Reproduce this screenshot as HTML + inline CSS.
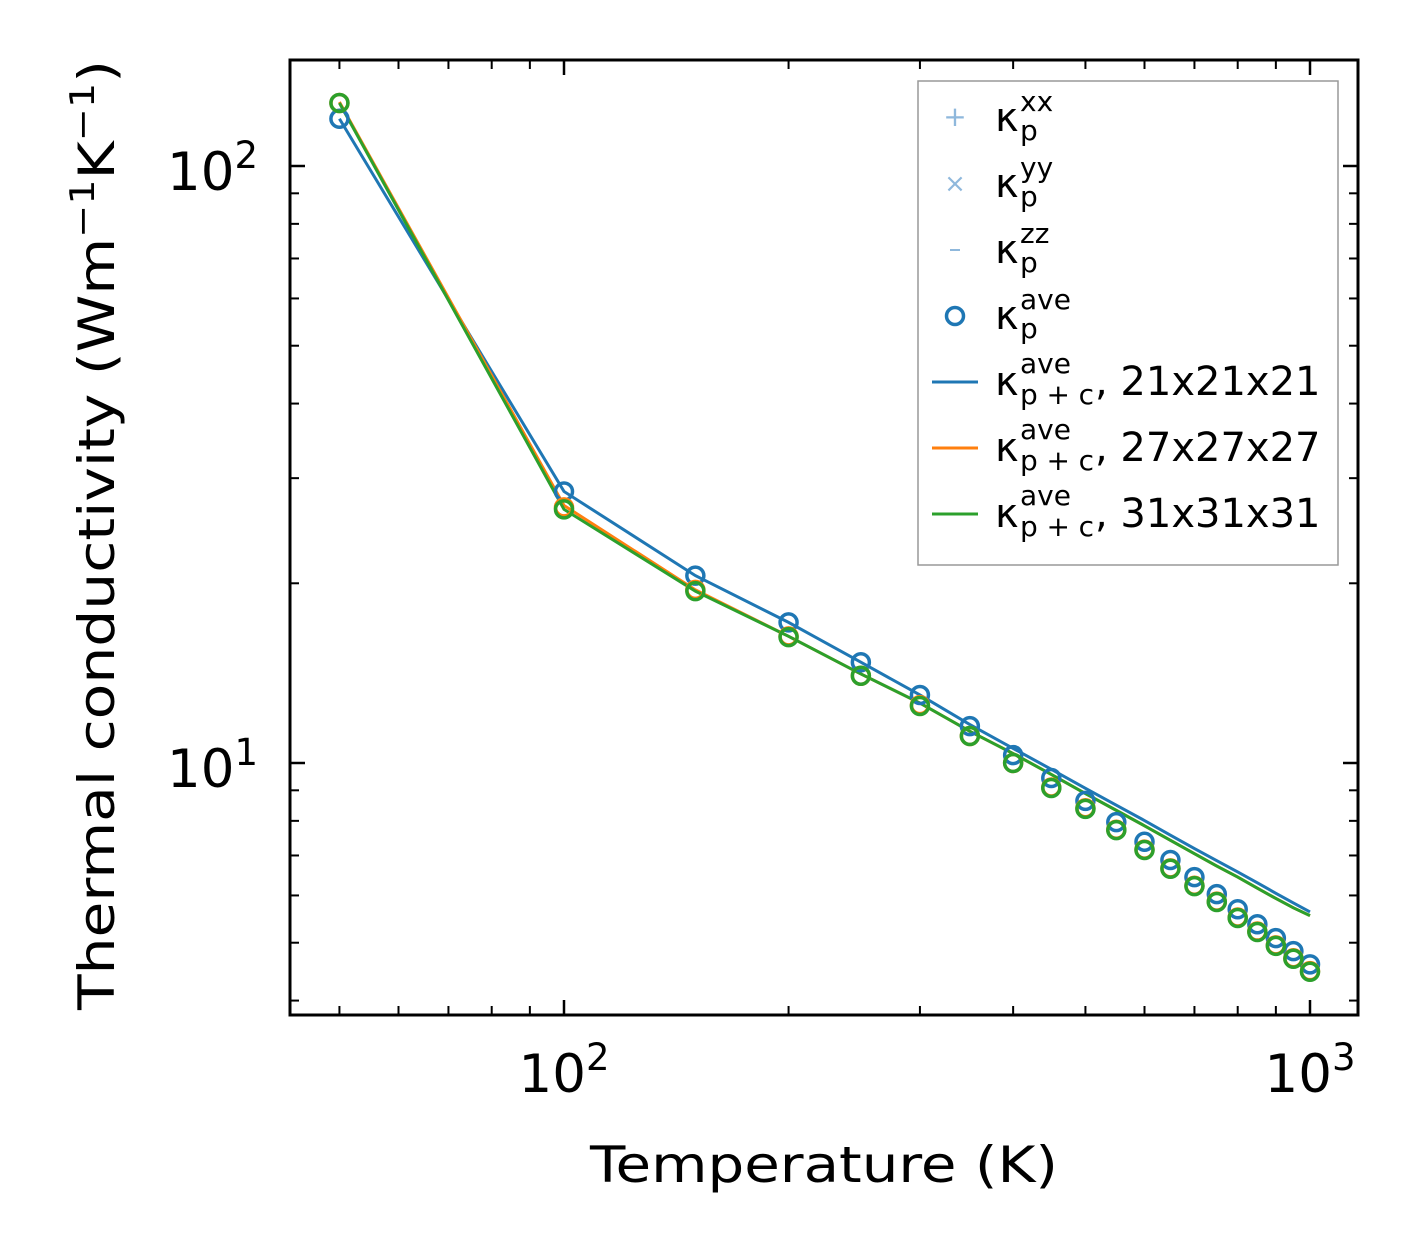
<!DOCTYPE html>
<html><head><meta charset="utf-8"><style>
body{margin:0;background:#fff}
svg{font-family:"DejaVu Sans","Liberation Sans",sans-serif}
</style></head><body>
<svg id="chart" width="1420" height="1254" viewBox="0 0 1420 1254" xmlns="http://www.w3.org/2000/svg">
<rect width="1420" height="1254" fill="#fff"/>
<g id="ticks"></g>
<g id="plot"></g>
<rect x="290" y="60" width="1068" height="955" fill="none" stroke="#000" stroke-width="3"/>
<g font-size="53" fill="#000">
<text x="564" y="1092" text-anchor="middle">10<tspan dy="-22" font-size="37">2</tspan></text>
<text x="1310" y="1092" text-anchor="middle">10<tspan dy="-22" font-size="37">3</tspan></text>
<text x="258" y="190" text-anchor="end">10<tspan dy="-22" font-size="37">2</tspan></text>
<text x="258" y="787" text-anchor="end">10<tspan dy="-22" font-size="37">1</tspan></text>
</g>
<text x="824" y="1182" font-size="50" text-anchor="middle" textLength="468" lengthAdjust="spacingAndGlyphs">Temperature (K)</text>
<text transform="translate(114,535) rotate(-90)" font-size="50" text-anchor="middle" textLength="950" lengthAdjust="spacingAndGlyphs">Thermal conductivity (Wm<tspan dy="-20" font-size="34">−1</tspan><tspan dy="20">K</tspan><tspan dy="-20" font-size="34">−1</tspan><tspan dy="20">)</tspan></text>
<g>
<rect x="918" y="81" width="420" height="484" fill="#fff" stroke="#999" stroke-width="1.5"/>
<g fill="#000" font-size="40">
<text x="955" y="126" font-size="28" fill="#8fb8dc" text-anchor="middle">+</text>
<text x="955" y="192" font-size="26" fill="#8fb8dc" text-anchor="middle">×</text>
<line x1="950" y1="250" x2="960" y2="250" stroke="#8fb8dc" stroke-width="2"/>
<circle cx="955" cy="316" r="8.5" fill="none" stroke="#1f77b4" stroke-width="3.5"/>
<line x1="932" y1="382" x2="978" y2="382" stroke="#1f77b4" stroke-width="3"/>
<line x1="932" y1="448" x2="978" y2="448" stroke="#ff7f0e" stroke-width="3"/>
<line x1="932" y1="514" x2="978" y2="514" stroke="#2ca02c" stroke-width="3"/>
<g><text x="995" y="131">κ</text><text x="1020" y="111" font-size="28">xx</text><text x="1020" y="140" font-size="28">p</text></g>
<g><text x="995" y="197">κ</text><text x="1020" y="177" font-size="28">yy</text><text x="1020" y="206" font-size="28">p</text></g>
<g><text x="995" y="263">κ</text><text x="1020" y="243" font-size="28">zz</text><text x="1020" y="272" font-size="28">p</text></g>
<g><text x="995" y="329">κ</text><text x="1020" y="309" font-size="28">ave</text><text x="1020" y="338" font-size="28">p</text></g>
<g><text x="995" y="395">κ</text><text x="1020" y="373" font-size="28">ave</text><text x="1020" y="404" font-size="28" textLength="74">p + c</text><text x="1095" y="395">, 21x21x21</text></g>
<g><text x="995" y="461">κ</text><text x="1020" y="439" font-size="28">ave</text><text x="1020" y="470" font-size="28" textLength="74">p + c</text><text x="1095" y="461">, 27x27x27</text></g>
<g><text x="995" y="527">κ</text><text x="1020" y="505" font-size="28">ave</text><text x="1020" y="536" font-size="28" textLength="74">p + c</text><text x="1095" y="527">, 31x31x31</text></g>
</g></g>
</svg>
<script>
const temps=[50,100,150,200,250,300,350,400,450,500,550,600,650,700,750,800,850,900,950,1000];
const pts21=[120,28.5,20.6,17.2,14.75,13.0,11.53,10.31,9.44,8.64,7.96,7.38,6.88,6.44,6.03,5.69,5.37,5.09,4.84,4.60];
const pts27=[127.5,26.8,19.5,16.3,14.0,12.5,11.1,10.0,9.1,8.4,7.73,7.16,6.66,6.23,5.86,5.51,5.22,4.95,4.71,4.48];
const pts31=[127.5,26.6,19.4,16.25,14.0,12.46,11.1,10.0,9.08,8.38,7.72,7.15,6.65,6.22,5.85,5.50,5.21,4.94,4.70,4.47];
const line21=[120,28.5,20.6,17.2,14.75,13.0,11.6,10.58,9.76,9.07,8.50,8.01,7.57,7.19,6.86,6.57,6.30,6.05,5.83,5.63];
const line27=[128,27.0,19.5,16.3,14.1,12.6,11.3,10.37,9.57,8.89,8.33,7.85,7.42,7.05,6.72,6.44,6.17,5.93,5.72,5.55];
const line31=[127.5,26.6,19.4,16.3,14.1,12.6,11.3,10.37,9.57,8.89,8.33,7.85,7.42,7.05,6.72,6.44,6.17,5.93,5.72,5.55];
const xTicksMinor=[50,60,70,80,90,200,300,400,500,600,700,800,900];
const xTicksMajor=[100,1000];
const yTicksMinor=[4,5,6,7,8,9,20,30,40,50,60,70,80,90];
const yTicksMajor=[10,100];
const NS="http://www.w3.org/2000/svg";
const X=v=>564+(Math.log10(v)-2)*746;
const Y=v=>166-(Math.log10(v)-2)*597;
const plot=document.getElementById('plot'),tk=document.getElementById('ticks');
function mk(tag,at,parent){const e=document.createElementNS(NS,tag);for(const k in at)e.setAttribute(k,at[k]);parent.appendChild(e);return e;}
function tick(x1,y1,x2,y2,w){const l=mk('line',{x1,y1,x2,y2,stroke:'#000','stroke-width':w},tk);

}
xTicksMajor.forEach(v=>{const x=X(v);tick(x,1015,x,1000,2.5);tick(x,60,x,75,2.5);});
xTicksMinor.forEach(v=>{const x=X(v);tick(x,1015,x,1006,2);tick(x,60,x,69,2);});
yTicksMajor.forEach(v=>{const y=Y(v);tick(290,y,305,y,2.5);tick(1358,y,1343,y,2.5);});
yTicksMinor.forEach(v=>{const y=Y(v);tick(290,y,299,y,2);tick(1358,y,1349,y,2);});
const series=[[line21,pts21,'#1f77b4','21'],[line27,pts27,'#ff7f0e','27'],[line31,pts31,'#2ca02c','31']];
series.forEach(([ln,pts,c,n])=>{
 const p=mk('polyline',{points:temps.map((t,i)=>X(t)+','+Y(ln[i])).join(' '),fill:'none',stroke:c,'stroke-width':3},plot);
 
 
});
series.forEach(([ln,pts,c,n])=>{
 temps.forEach((t,i)=>{
  const m=mk('circle',{cx:X(t),cy:Y(pts[i]),r:8.5,fill:'none',stroke:c,'stroke-width':3.5},plot);
  
  
 });
});
</script>
</body></html>
